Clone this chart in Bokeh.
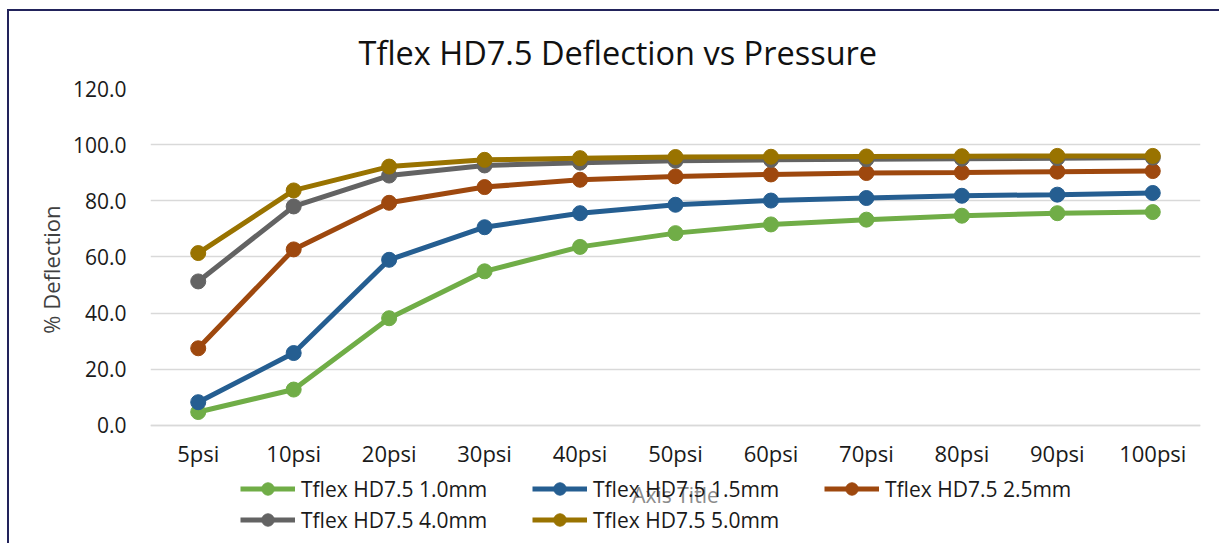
from bokeh.plotting import figure
from bokeh.models import (FactorRange, Range1d, FixedTicker, NumeralTickFormatter,
                          Legend, LegendItem, Title)
from bokeh.embed import file_html
from bokeh.resources import INLINE

pressures = ["5psi", "10psi", "20psi", "30psi", "40psi", "50psi",
             "60psi", "70psi", "80psi", "90psi", "100psi"]

s_10mm = [4.8, 12.8, 38.2, 54.9, 63.6, 68.5, 71.6, 73.3, 74.7, 75.6, 76.0]
s_15mm = [8.3, 25.8, 59.0, 70.6, 75.6, 78.6, 80.1, 81.0, 81.8, 82.2, 82.8]
s_25mm = [27.5, 62.7, 79.3, 84.9, 87.5, 88.7, 89.4, 89.9, 90.1, 90.4, 90.6]
s_40mm = [51.3, 78.0, 89.0, 92.6, 93.6, 94.3, 94.6, 94.8, 95.0, 95.2, 95.4]
s_50mm = [61.4, 83.7, 92.2, 94.6, 95.2, 95.6, 95.7, 95.8, 95.9, 96.0, 96.0]

series_names = ["Tflex HD7.5 1.0mm", "Tflex HD7.5 1.5mm", "Tflex HD7.5 2.5mm",
                "Tflex HD7.5 4.0mm", "Tflex HD7.5 5.0mm"]
series_vals = [s_10mm, s_15mm, s_25mm, s_40mm, s_50mm]
colors = ["#70AD47", "#255E91", "#9E480E", "#636363", "#997300"]

y_ticks = [0, 20, 40, 60, 80, 100, 120]

FONT = "Open Sans"
BORDER = "#22235b"

# the plot frame extends below 0 so that the legend area lies inside it
p = figure(width=1212, height=534, output_backend="svg", toolbar_location=None,
           x_range=FactorRange(*pressures), y_range=Range1d(-42.73, 120),
           min_border_left=141, min_border_right=21, min_border_top=77,
           min_border_bottom=0,
           styles={"margin-left": "7px", "margin-top": "9px",
                   "border-left": f"2px solid {BORDER}",
                   "border-top": f"2px solid {BORDER}"})
p.outline_line_color = None
p.background_fill_color = "white"
p.border_fill_color = "white"

# title
p.title.text = "Tflex HD7.5 Deflection vs Pressure"
p.title.align = "left"
p.title.offset = 208
p.title.standoff = 27
p.title.text_font = FONT
p.title.text_font_size = "32.5px"
p.title.text_font_style = "normal"
p.title.text_color = "#111111"

# grid
p.xgrid.grid_line_color = None
p.ygrid.grid_line_color = "#D9D9D9"
p.ygrid.grid_line_width = 1.3

# y axis
p.yaxis.ticker = FixedTicker(ticks=y_ticks)
p.yaxis.formatter = NumeralTickFormatter(format="0.0")
p.yaxis.axis_line_color = None
p.yaxis.major_tick_line_color = None
p.yaxis.minor_tick_line_color = None
p.yaxis.major_label_standoff = 18
p.yaxis.major_label_text_font = FONT
p.yaxis.major_label_text_font_size = "21px"
p.yaxis.major_label_text_color = "#1a1a1a"

# y axis title, placed beside the 0-120 part of the frame
p.add_layout(Title(text="% Deflection", align="right", offset=117, standoff=7,
                   text_font=FONT, text_font_size="22px", text_font_style="normal",
                   text_color="#404040"), "left")

# x axis drawn at y = 0
p.xaxis.fixed_location = 0
p.xaxis.axis_line_color = "#D9D9D9"
p.xaxis.axis_line_width = 1.3
p.xaxis.major_tick_line_color = None
p.xaxis.minor_tick_line_color = None
p.xaxis.major_label_standoff = 7
p.xaxis.major_label_text_font = FONT
p.xaxis.major_label_text_font_size = "22px"
p.xaxis.major_label_text_color = "#1a1a1a"
p.xaxis.axis_label = "Axis Title"
p.xaxis.axis_label_text_font = FONT
p.xaxis.axis_label_text_font_size = "21px"
p.xaxis.axis_label_text_font_style = "normal"
p.xaxis.axis_label_text_color = "#8c8c8c"
p.xaxis.axis_label_standoff = 9

items = {}
for name, vals, c in zip(series_names, series_vals, colors):
    lr = p.line(x=pressures, y=vals, line_color=c, line_width=5)
    sr = p.scatter(x=pressures, y=vals, size=15, fill_color=c, line_color=c)
    items[name] = LegendItem(label=name, renderers=[lr, sr])

# legend fills column by column: order so rows read 1.0 1.5 2.5 / 4.0 5.0
order = [0, 3, 1, 4, 2]
legend = Legend(items=[items[series_names[i]] for i in order], ncols=3,
                location=(90, 10),
                glyph_width=55, glyph_height=31, label_standoff=6,
                label_width=231, label_height=28,
                spacing=0, padding=0, margin=0,
                label_text_font=FONT, label_text_font_size="21px",
                label_text_color="#1a1a1a",
                background_fill_alpha=0, border_line_color=None)
p.add_layout(legend, "center")

open("out.html", "w").write(file_html(p, INLINE))
